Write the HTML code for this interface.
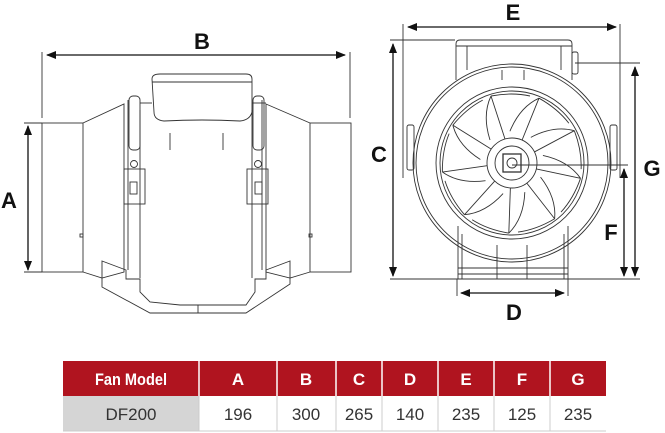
<!DOCTYPE html>
<html><head><meta charset="utf-8"><style>
body{margin:0;background:#fff;width:665px;height:433px;overflow:hidden;font-family:"Liberation Sans",sans-serif}
svg{position:absolute;left:0;top:0}
</style></head><body>
<svg width="665" height="433" viewBox="0 0 665 433" xmlns="http://www.w3.org/2000/svg">
<defs>
<marker id="ar" markerWidth="10" markerHeight="8" refX="9" refY="4" orient="auto-start-reverse" markerUnits="userSpaceOnUse"><path d="M0,0 L10,4 L0,8 Z" fill="#111"/></marker>
</defs>
<g stroke="#333" stroke-width="0.9" fill="none">
<line x1="42" y1="52" x2="42" y2="118"/><line x1="350" y1="52" x2="350" y2="118"/>
<line x1="47" y1="55" x2="345" y2="55" stroke="#111" stroke-width="1.3" marker-start="url(#ar)" marker-end="url(#ar)"/>
<line x1="28" y1="126" x2="28" y2="270" stroke="#111" stroke-width="1.3" marker-start="url(#ar)" marker-end="url(#ar)"/>
<line x1="24" y1="123" x2="42" y2="123"/><line x1="24" y1="272" x2="42" y2="272"/>
<rect x="42" y="123" width="41" height="149"/>
<rect x="310" y="123" width="41" height="149"/>
<path d="M83,123 L124,104 L124,272 L102,278 L83,272"/>
<path d="M310,123 L266,104 L266,272 L290,278 L310,272"/>
<line x1="128" y1="100" x2="128" y2="270"/><line x1="262" y1="100" x2="262" y2="270"/>
<line x1="140" y1="110" x2="140" y2="278"/><line x1="252" y1="110" x2="252" y2="278"/>
<line x1="140" y1="103" x2="152" y2="103"/><line x1="252" y1="103" x2="266" y2="103"/>
<path d="M152,79 Q152,74 160,74 L246,74 Q252,74 252,79 L252,112 Q250,120 240,121 Q202,119 164,121 Q154,120 154,112 Z"/>
<line x1="152" y1="82" x2="252" y2="82"/>
<line x1="170" y1="133" x2="170" y2="150"/><line x1="223" y1="133" x2="223" y2="150"/>
<rect x="129" y="96" width="11" height="54" rx="4"/><rect x="253" y="96" width="11" height="54" rx="4"/>
<circle cx="134" cy="164" r="3.5"/><circle cx="258" cy="164" r="3.5"/>
<rect x="124" y="169" width="21" height="35"/><rect x="247" y="169" width="21" height="35"/>
<rect x="130" y="182" width="7" height="12"/><rect x="255" y="182" width="7" height="12"/>
<rect x="80" y="234" width="3" height="3"/><rect x="309" y="234" width="3" height="3"/>
<path d="M102,261 L126,270 L126,279 L140,279 L140,292 L150,302 L180,305 L246,305 L255,292 L255,279 L266,279 L266,270 L290,261 L290,284 L246,313 L150,313 L102,287 Z"/>
<line x1="198" y1="305" x2="198" y2="313"/>
<line x1="403" y1="24" x2="403" y2="178"/><line x1="620" y1="24" x2="620" y2="178"/>
<line x1="408" y1="27" x2="616" y2="27" stroke="#111" stroke-width="1.3" marker-start="url(#ar)" marker-end="url(#ar)"/>
<line x1="390" y1="40" x2="455" y2="40"/>
<line x1="390" y1="279" x2="640" y2="279"/>
<line x1="393" y1="44" x2="393" y2="276" stroke="#111" stroke-width="1.3" marker-start="url(#ar)" marker-end="url(#ar)"/>
<line x1="575" y1="63" x2="640" y2="63"/>
<line x1="635" y1="67" x2="635" y2="276" stroke="#111" stroke-width="1.3" marker-start="url(#ar)" marker-end="url(#ar)"/>
<line x1="512" y1="165" x2="628" y2="165"/>
<line x1="624" y1="169" x2="624" y2="276" stroke="#111" stroke-width="1.3" marker-start="url(#ar)" marker-end="url(#ar)"/>
<line x1="457" y1="279" x2="457" y2="296"/><line x1="568" y1="279" x2="568" y2="296"/>
<line x1="461" y1="293" x2="564" y2="293" stroke="#111" stroke-width="1.3" marker-start="url(#ar)" marker-end="url(#ar)"/>
<path d="M456,80 L456,44 Q456,40 460,40 L568,40 Q572,40 572,44 L572,80"/>
<line x1="456" y1="46" x2="572" y2="46"/><line x1="467" y1="46" x2="467" y2="70"/><line x1="561" y1="46" x2="561" y2="70"/>
<rect x="572" y="52" width="6" height="22" rx="2"/>
<circle cx="512" cy="163" r="99"/><circle cx="512" cy="163" r="96"/>
<circle cx="512" cy="163" r="76"/><circle cx="512" cy="163" r="72"/>
<circle cx="512" cy="163" r="25"/><circle cx="512" cy="163" r="17"/>
<rect x="503" y="154" width="18" height="18" stroke-width="1.3"/>
<circle cx="512" cy="163" r="5"/>
<rect x="407" y="125" width="7" height="45" rx="2"/><rect x="610" y="125" width="7" height="45" rx="2"/>
<line x1="502" y1="70" x2="502" y2="80"/><line x1="524" y1="70" x2="524" y2="80"/>
<g id="bl">
<path d="M505,139 L491,96 M491,96 Q482,115 490,140 M491,96 Q512,92 530,96" stroke-width="0.9"/>
</g>
<use href="#bl" transform="rotate(40 512 163)"/><use href="#bl" transform="rotate(80 512 163)"/>
<use href="#bl" transform="rotate(120 512 163)"/><use href="#bl" transform="rotate(160 512 163)"/>
<use href="#bl" transform="rotate(200 512 163)"/><use href="#bl" transform="rotate(240 512 163)"/>
<use href="#bl" transform="rotate(280 512 163)"/><use href="#bl" transform="rotate(320 512 163)"/>
<line x1="458" y1="226" x2="458" y2="279"/><line x1="568" y1="226" x2="568" y2="279"/>
<line x1="462" y1="234" x2="462" y2="279"/><line x1="564" y1="234" x2="564" y2="279"/>
<line x1="497" y1="245" x2="497" y2="279"/><line x1="527" y1="245" x2="527" y2="279"/>
<line x1="458" y1="268" x2="568" y2="268"/><line x1="458" y1="274" x2="568" y2="274"/>
</g>
<g font-family="Liberation Sans,sans-serif" font-weight="bold" font-size="22" fill="#111" text-anchor="middle">
<text x="202" y="49">B</text><text x="9" y="208">A</text>
<text x="513" y="20">E</text><text x="379" y="162">C</text>
<text x="652" y="176">G</text><text x="611" y="240">F</text><text x="514" y="320">D</text>
</g>
<rect x="63" y="361" width="543" height="35" fill="#b0141f"/>
<rect x="63" y="396" width="136" height="35" fill="#d5d5d5"/>
<g stroke="#fff" stroke-width="1.5">
<line x1="199" y1="361" x2="199" y2="396"/><line x1="277" y1="361" x2="277" y2="396"/><line x1="336" y1="361" x2="336" y2="396"/><line x1="382" y1="361" x2="382" y2="396"/><line x1="438" y1="361" x2="438" y2="396"/><line x1="494" y1="361" x2="494" y2="396"/><line x1="550" y1="361" x2="550" y2="396"/>
</g>
<g stroke="#ccc" stroke-width="1">
<line x1="199" y1="396" x2="199" y2="431"/><line x1="277" y1="396" x2="277" y2="431"/><line x1="336" y1="396" x2="336" y2="431"/><line x1="382" y1="396" x2="382" y2="431"/><line x1="438" y1="396" x2="438" y2="431"/><line x1="494" y1="396" x2="494" y2="431"/><line x1="550" y1="396" x2="550" y2="431"/>
<line x1="63" y1="431" x2="606" y2="431"/>
</g>
<g font-family="Liberation Sans,sans-serif" font-weight="bold" font-size="17" fill="#fff" text-anchor="middle">
<text x="131" y="385" textLength="72" lengthAdjust="spacingAndGlyphs">Fan Model</text>
<text x="238" y="385">A</text><text x="306" y="385">B</text><text x="359" y="385">C</text><text x="410" y="385">D</text><text x="466" y="385">E</text><text x="522" y="385">F</text><text x="578" y="385">G</text>
</g>
<g font-family="Liberation Sans,sans-serif" font-size="17" fill="#333" text-anchor="middle">
<text x="131" y="420">DF200</text>
<text x="238" y="420">196</text><text x="306" y="420">300</text><text x="359" y="420">265</text><text x="410" y="420">140</text><text x="466" y="420">235</text><text x="522" y="420">125</text><text x="578" y="420">235</text>
</g>
</svg>
</body></html>
